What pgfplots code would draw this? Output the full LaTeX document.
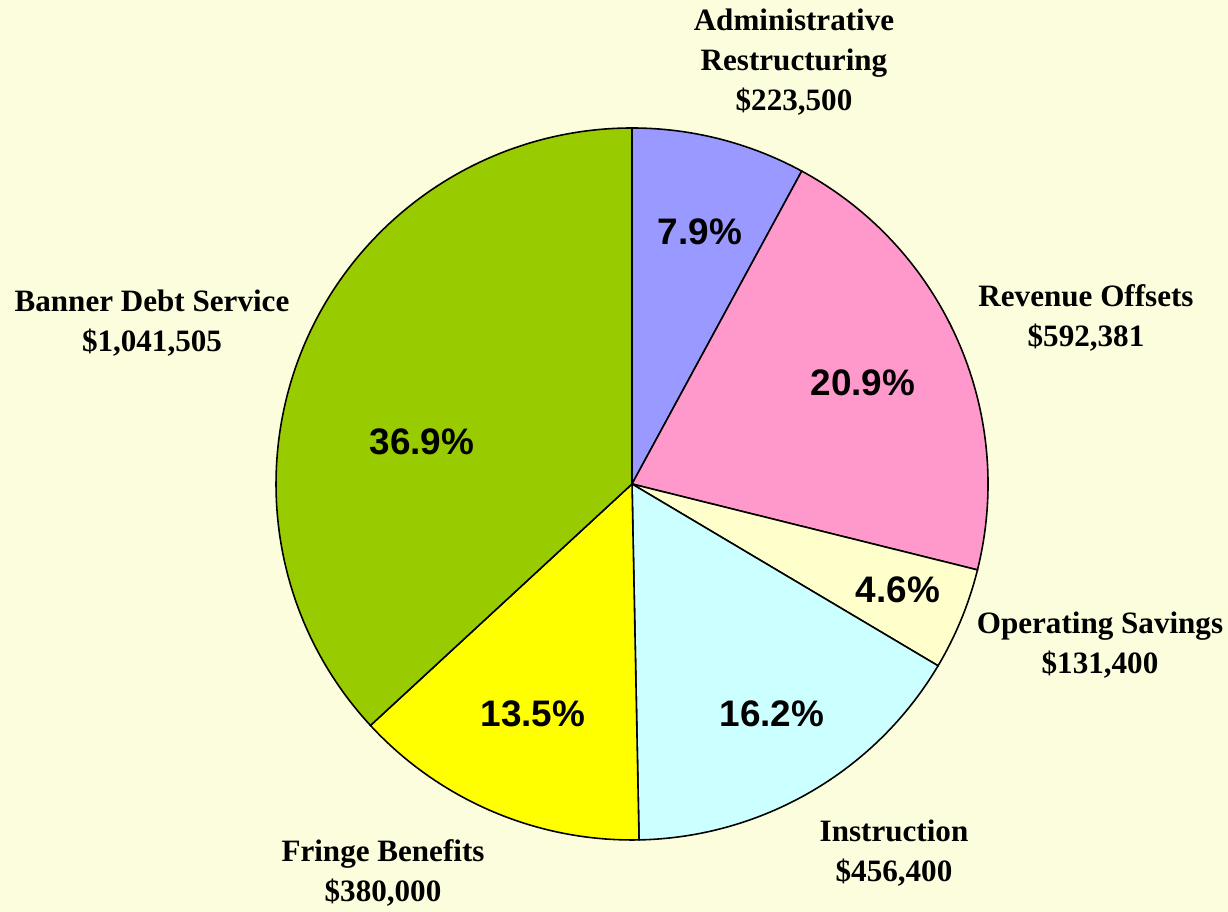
\documentclass[border=0pt]{standalone}
\usepackage{pgfplots}
\pgfplotsset{compat=1.18}
\usepackage{fontspec}
\setmainfont{Liberation Serif}
\setsansfont{Liberation Sans}
\definecolor{bg}{RGB}{252,253,221}
\definecolor{cadm}{RGB}{153,153,255}
\definecolor{crev}{RGB}{255,153,204}
\definecolor{cope}{RGB}{255,255,204}
\definecolor{cins}{RGB}{204,255,255}
\definecolor{cfri}{RGB}{255,255,0}
\definecolor{cban}{RGB}{153,204,0}
% slice values (dollars)
\def\vA{223500}  % Administrative Restructuring
\def\vB{592381}  % Revenue Offsets
\def\vC{131400}  % Operating Savings
\def\vD{456400}  % Instruction
\def\vE{380000}  % Fringe Benefits
\def\vF{1041505} % Banner Debt Service
\edef\tot{\fpeval{\vA+\vB+\vC+\vD+\vE+\vF}}
\edef\aO{90}
\edef\aA{\fpeval{90-360*\vA/\tot}}
\edef\aB{\fpeval{\aA-360*\vB/\tot}}
\edef\aC{\fpeval{\aB-360*\vC/\tot}}
\edef\aD{\fpeval{\aC-360*\vD/\tot}}
\edef\aE{\fpeval{\aD-360*\vE/\tot}}
\edef\aF{\fpeval{\aE-360*\vF/\tot}}
\newcommand\lab{\fontsize{8.85}{11.4}\selectfont\bfseries}
\newcommand\pct{\fontsize{10.5}{12}\selectfont\sffamily\bfseries}
\tikzset{labs/.style={font=\lab, align=center, inner sep=0pt},
         pcts/.style={font=\pct, inner sep=0pt}}
\newcommand\slice[3]{%
  \filldraw[fill=#3, draw=black, line width=0.45pt]
    (axis cs:632,428) -- ([shift={(#1:3.56cm)}]axis cs:632,428)
    arc[start angle=#1, end angle=#2, radius=3.56cm] -- cycle;}
\begin{document}
\begin{tikzpicture}
\begin{axis}[x=0.1mm, y=0.1mm, xmin=0, xmax=1228, ymin=0, ymax=912,
  hide axis, clip=false]
\fill[bg] (axis cs:0,0) rectangle (axis cs:1228,912);
\slice{\aO}{\aA}{cadm}
\slice{\aA}{\aB}{crev}
\slice{\aB}{\aC}{cope}
\slice{\aC}{\aD}{cins}
\slice{\aD}{\aE}{cfri}
\slice{\aE}{\aF}{cban}
\node[pcts] at (axis cs:700,680) {7.9\%};
\node[pcts] at (axis cs:863,529) {20.9\%};
\node[pcts] at (axis cs:898,322) {4.6\%};
\node[pcts] at (axis cs:772,198) {16.2\%};
\node[pcts] at (axis cs:533,198) {13.5\%};
\node[pcts] at (axis cs:422,470) {36.9\%};
\node[labs] at (axis cs:794,850) {Administrative\\Restructuring\\\$223,500};
\node[labs] at (axis cs:1086,594) {Revenue Offsets\\\$592,381};
\node[labs] at (axis cs:1100,267) {Operating Savings\\\$131,400};
\node[labs] at (axis cs:894,59) {Instruction\\\$456,400};
\node[labs] at (axis cs:383,39) {Fringe Benefits\\\$380,000};
\node[labs] at (axis cs:152,589) {Banner Debt Service\\\$1,041,505};
\end{axis}
\end{tikzpicture}
\end{document}
